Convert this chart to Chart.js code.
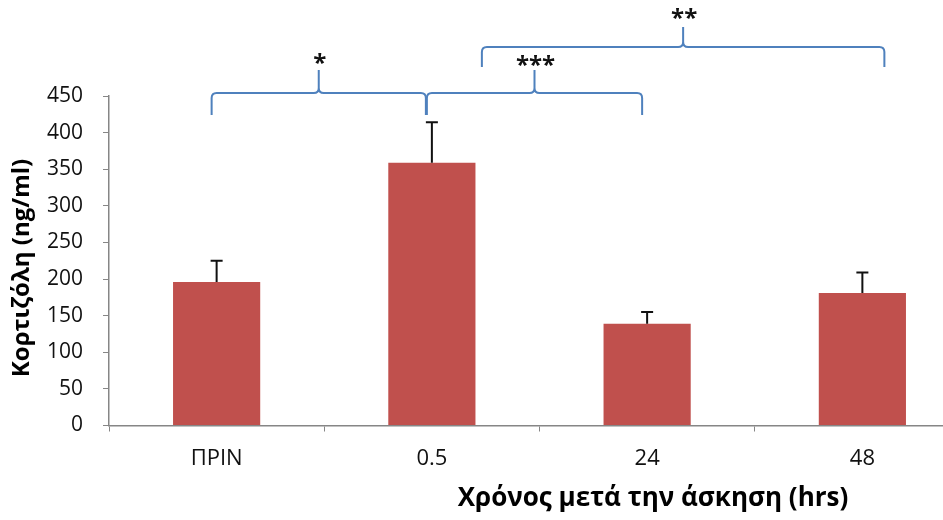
<!DOCTYPE html>
<html>
<head>
<meta charset="utf-8">
<script src="https://cdn.jsdelivr.net/npm/chart.js@4/dist/chart.umd.min.js"></script>
<style>
  html, body { margin: 0; padding: 0; background: #fff; overflow: hidden; }
  #wrap { width: 943px; height: 520px; overflow: hidden; }
</style>
</head>
<body>
<div id="wrap"><canvas id="cortChart" width="980" height="520"></canvas></div>
<script>
// data
const categories = ['ΠΡΙΝ', '0.5', '24', '48'];
const cortisol = [196, 359, 139, 181];
const cortisolErr = [29, 55, 16, 28];
const yTicks = [0, 50, 100, 150, 200, 250, 300, 350, 400, 450];

// significance brackets: [from category, to category], label
const sigPairs = [[0, 1], [1, 2], [1, 3]];
const sigLabels = ['*', '***', '**'];

const xTitle = 'Χρόνος μετά την άσκηση (hrs)';
const yTitle = 'Κορτιζόλη (ng/ml)';

const FONT = '"Open Sans", "Noto Sans", sans-serif';

// brace placement, pixels relative to category centres / chart top
const braceStyle = [
    { dx1: -5, dx2: -6, bar: -3, end: 19, tip: -26, label: -38 },
    { dx1: -5, dx2: -5, bar: -3, end: 19, tip: -26, label: -36 },
    { dx1: 50, dx2: 22, bar: -49, end: -29, tip: -69, label: -83 }
];

function drawBrace(ctx, x1, x2, yBar, yEnd, yTip) {
    const r = 5;
    const xm = (x1 + x2) / 2;
    ctx.beginPath();
    ctx.moveTo(x1, yEnd);
    ctx.lineTo(x1, yBar + r);
    ctx.quadraticCurveTo(x1, yBar, x1 + r, yBar);
    ctx.lineTo(xm - r, yBar);
    ctx.quadraticCurveTo(xm, yBar, xm, yBar - r);
    ctx.lineTo(xm, yTip);
    ctx.moveTo(xm, yBar - r);
    ctx.quadraticCurveTo(xm, yBar, xm + r, yBar);
    ctx.lineTo(x2 - r, yBar);
    ctx.quadraticCurveTo(x2, yBar, x2, yBar + r);
    ctx.lineTo(x2, yEnd);
    ctx.stroke();
}

function textCentered(ctx, str, cx, cy) {
    const m = ctx.measureText(str);
    const asc = m.actualBoundingBoxAscent, desc = m.actualBoundingBoxDescent;
    ctx.textAlign = 'center';
    ctx.textBaseline = 'alphabetic';
    ctx.fillText(str, cx, cy + (asc - desc) / 2);
}

const extrasPlugin = {
    id: 'extras',
    afterDatasetsDraw(chart) {
        const ctx = chart.ctx;
        const xs = chart.scales.x, ys = chart.scales.y;
        const area = chart.chartArea;
        const meta = chart.getDatasetMeta(0);

        // error bars (upper only)
        ctx.save();
        ctx.strokeStyle = '#111';
        ctx.lineWidth = 2;
        meta.data.forEach((bar, i) => {
            const yTop = ys.getPixelForValue(cortisol[i] + cortisolErr[i]);
            ctx.beginPath();
            ctx.moveTo(bar.x, bar.y);
            ctx.lineTo(bar.x, yTop);
            ctx.moveTo(bar.x - 6, yTop);
            ctx.lineTo(bar.x + 6, yTop);
            ctx.stroke();
        });
        ctx.restore();

        // significance braces
        ctx.save();
        ctx.strokeStyle = '#4F81BD';
        ctx.lineWidth = 2;
        ctx.fillStyle = '#111';
        ctx.font = 'bold 24px ' + FONT;
        sigPairs.forEach((p, i) => {
            const s = braceStyle[i];
            const x1 = xs.getPixelForValue(p[0]) + s.dx1;
            const x2 = xs.getPixelForValue(p[1]) + s.dx2;
            drawBrace(ctx, x1, x2, area.top + s.bar, area.top + s.end, area.top + s.tip);
            textCentered(ctx, sigLabels[i], (x1 + x2) / 2 + 1, area.top + s.label);
        });
        ctx.restore();

        // axis titles
        ctx.save();
        ctx.fillStyle = '#000';
        ctx.font = 'bold 26px ' + FONT;
        textCentered(ctx, xTitle, 653, 498);
        ctx.translate(22, 268);
        ctx.rotate(-Math.PI / 2);
        ctx.font = 'bold 24px ' + FONT;
        textCentered(ctx, yTitle, 0, 0);
        ctx.restore();
    }
};

const chart = new Chart(document.getElementById('cortChart').getContext('2d'), {
    type: 'bar',
    data: {
        labels: categories,
        datasets: [{
            data: cortisol,
            backgroundColor: '#C0504D',
            borderWidth: 0,
            categoryPercentage: 1,
            barPercentage: 0.405
        }]
    },
    options: {
        responsive: false,
        animation: false,
        layout: { padding: { top: 96, right: 10, left: 0, bottom: 0 } },
        plugins: {
            legend: { display: false },
            tooltip: { enabled: false }
        },
        scales: {
            x: {
                offset: true,
                grid: {
                    offset: true,
                    drawOnChartArea: false,
                    color: '#868686',
                    tickLength: 6
                },
                border: { color: '#868686', width: 1.5 },
                ticks: {
                    color: '#111',
                    padding: 14,
                    font: { family: FONT, size: 22 }
                },
                afterFit(scale) { scale.height = 94.5; }
            },
            y: {
                min: 0,
                max: 450,
                afterBuildTicks(scale) { scale.ticks = yTicks.map(v => ({ value: v })); },
                grid: {
                    drawOnChartArea: false,
                    color: '#868686',
                    tickLength: 6
                },
                border: { color: '#868686', width: 1.5 },
                ticks: {
                    color: '#111',
                    padding: 20,
                    font: { family: FONT, size: 21 }
                },
                afterFit(scale) { scale.width = 109; }
            }
        }
    },
    plugins: [extrasPlugin]
});
</script>
</body>
</html>
